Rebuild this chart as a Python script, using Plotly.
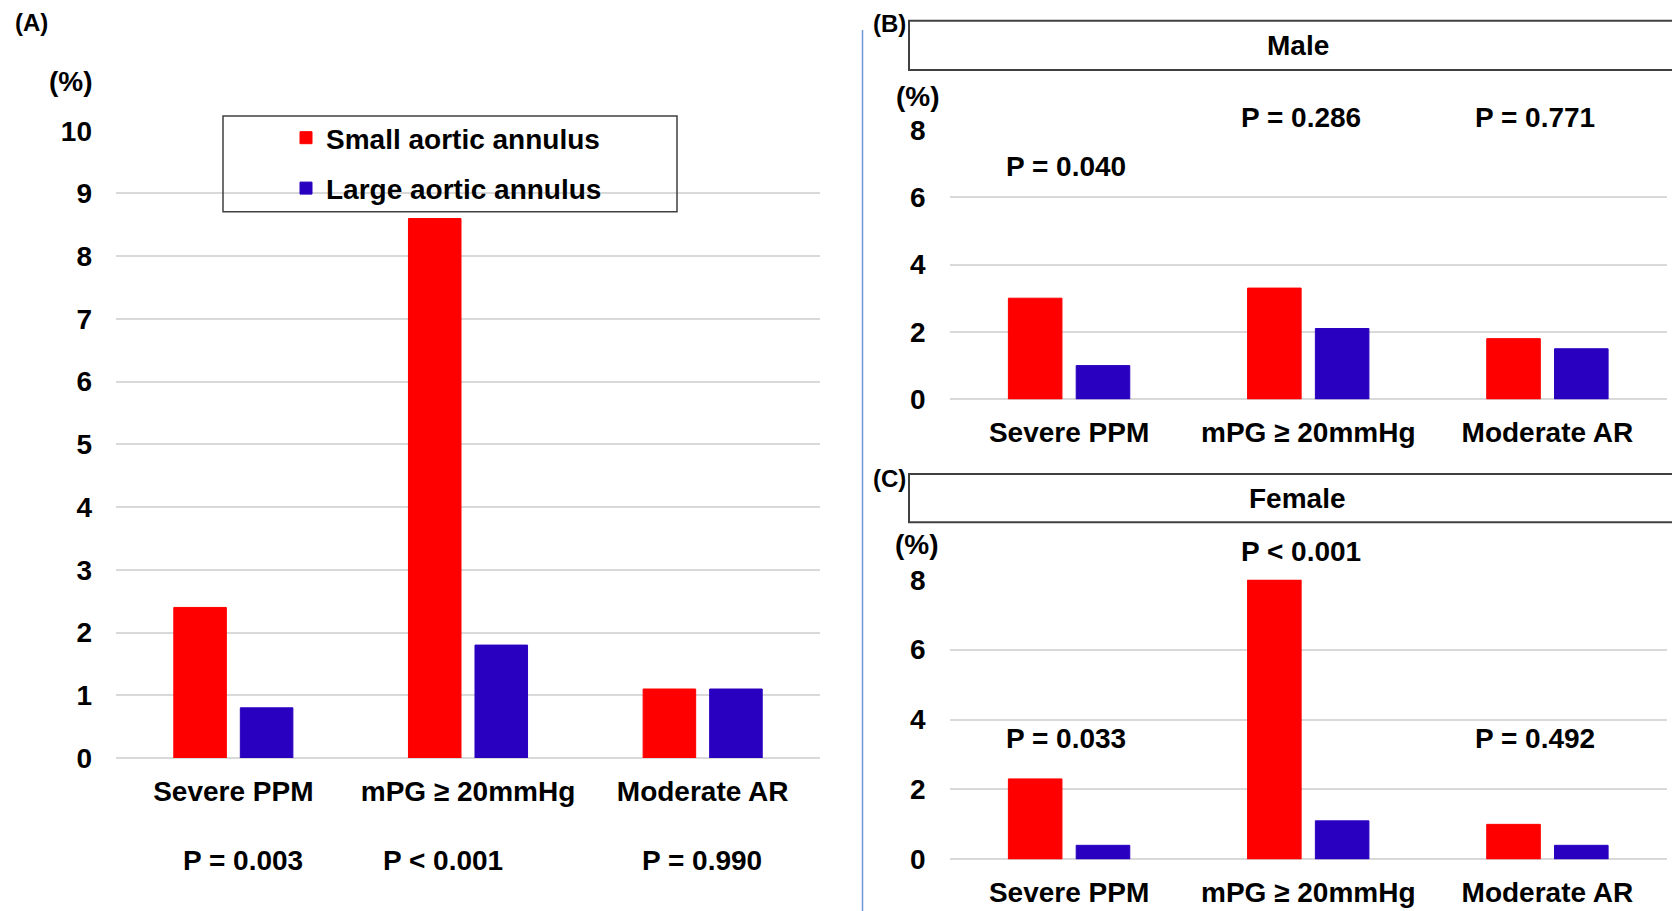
import plotly.graph_objects as go

# ---- data -------------------------------------------------------------
categories = ["Severe PPM", "mPG ≥ 20mmHg", "Moderate AR"]
series_names = ["Small aortic annulus", "Large aortic annulus"]

overall_small = [2.4, 8.6, 1.1]
overall_large = [0.8, 1.8, 1.1]
male_small = [3.0, 3.3, 1.8]
male_large = [1.0, 2.1, 1.5]
female_small = [2.3, 8.0, 1.0]
female_large = [0.4, 1.1, 0.4]

overall_p = ["P = 0.003", "P < 0.001", "P = 0.990"]
male_p = ["P = 0.040", "P = 0.286", "P = 0.771"]
female_p = ["P = 0.033", "P < 0.001", "P = 0.492"]

overall_ticks = list(range(0, 11))
sex_ticks = [0, 2, 4, 6, 8]

# ---- styling ----------------------------------------------------------
W, H = 1672, 911
RED = "#FF0000"
BLUE = "#2A00C0"
GRID = "#D9D9D9"
FONT = "Liberation Sans, Arial, sans-serif"
BOX_LINE = "#404040"


def px(x):
    return x / W


def py(y):
    return 1 - y / H


fig = go.Figure()

panels = [
    ("x", "y", overall_small, overall_large, True),
    ("x2", "y2", male_small, male_large, False),
    ("x3", "y3", female_small, female_large, False),
]
for xa, ya, small, large, show in panels:
    for name, vals, col in ((series_names[0], small, RED), (series_names[1], large, BLUE)):
        fig.add_trace(go.Bar(
            x=categories, y=vals, name=name, xaxis=xa, yaxis=ya,
            marker=dict(color=col, line=dict(color=col, width=1)),
            showlegend=show, legendgroup=name,
        ))

tickfont = dict(family=FONT, size=28, color="black", weight="bold")


def xaxis_cfg(domain, anchor):
    return dict(domain=domain, anchor=anchor, type="category", automargin=False,
                tickfont=tickfont, showgrid=False, showline=False,
                ticks="", ticklabelstandoff=14, fixedrange=True)


def yaxis_cfg(domain, anchor, rng, tickvals):
    return dict(domain=domain, anchor=anchor, range=rng, tickvals=tickvals,
                automargin=False,
                tickfont=tickfont, showgrid=True, gridcolor=GRID, gridwidth=1.5,
                zeroline=True, zerolinecolor=GRID, zerolinewidth=1.5,
                showline=False, ticks="", ticklabelstandoff=23, fixedrange=True)


fig.update_layout(
    width=W, height=H,
    margin=dict(l=0, r=0, t=0, b=0, pad=0),
    paper_bgcolor="white", plot_bgcolor="white",
    font=dict(family=FONT, size=28, color="black", weight="bold"),
    barmode="group", bargap=0.433, bargroupgap=0.21,
    xaxis=xaxis_cfg([px(116), px(820)], "y"),
    yaxis=yaxis_cfg([py(758), py(130.7)], "x", [0, 10], overall_ticks),
    xaxis2=xaxis_cfg([px(949.5), px(1667)], "y2"),
    yaxis2=yaxis_cfg([py(399.3), py(129.7)], "x2", [0, 8], sex_ticks),
    xaxis3=xaxis_cfg([px(949.5), px(1667)], "y3"),
    yaxis3=yaxis_cfg([py(859.3), py(579.7)], "x3", [0, 8], sex_ticks),
    legend=dict(x=px(286), y=py(113), xanchor="left", yanchor="top",
                bgcolor="rgba(0,0,0,0)", borderwidth=0,
                font=dict(family=FONT, size=28, color="black", weight="bold"),
                traceorder="grouped", tracegroupgap=11),
    showlegend=True,
)

# legend frame, panel header boxes and the divider between panels
shapes = [
    dict(type="rect", xref="paper", yref="paper", x0=px(223), x1=px(677),
         y0=py(211.7), y1=py(116), line=dict(color=BOX_LINE, width=1.5)),
    dict(type="rect", xref="paper", yref="paper", x0=px(909), x1=px(1700),
         y0=py(70), y1=py(20.7), line=dict(color=BOX_LINE, width=2)),
    dict(type="rect", xref="paper", yref="paper", x0=px(909), x1=px(1700),
         y0=py(522.3), y1=py(474), line=dict(color=BOX_LINE, width=2)),
    dict(type="line", xref="paper", yref="paper", x0=px(862.5), x1=px(862.5),
         y0=py(911), y1=py(30), line=dict(color="#7096D8", width=1.5)),
]
fig.update_layout(shapes=shapes)


def label(text, x, y, size=28):
    return dict(text=text, x=px(x), y=py(y), xref="paper", yref="paper",
                xanchor="center", yanchor="middle", showarrow=False,
                font=dict(family=FONT, size=size, color="black", weight="bold"))


annotations = [
    label("(A)", 31, 22, 24),
    label("(B)", 889, 24, 24),
    label("(C)", 889, 478, 24),
    label("(%)", 71, 82),
    label("(%)", 918, 97),
    label("(%)", 917, 544),
    label("Male", 1297.5, 45.5),
    label("Female", 1297, 498.5),
]
for t, x in zip(overall_p, (243, 443, 702)):
    annotations.append(label(t, x, 860))
for t, (x, y) in zip(male_p, ((1065.5, 167), (1301, 117), (1535, 117))):
    annotations.append(label(t, x, y))
for t, (x, y) in zip(female_p, ((1065.5, 738), (1301, 551), (1535, 738))):
    annotations.append(label(t, x, y))
fig.update_layout(annotations=annotations)

fig.write_html("out.html")
